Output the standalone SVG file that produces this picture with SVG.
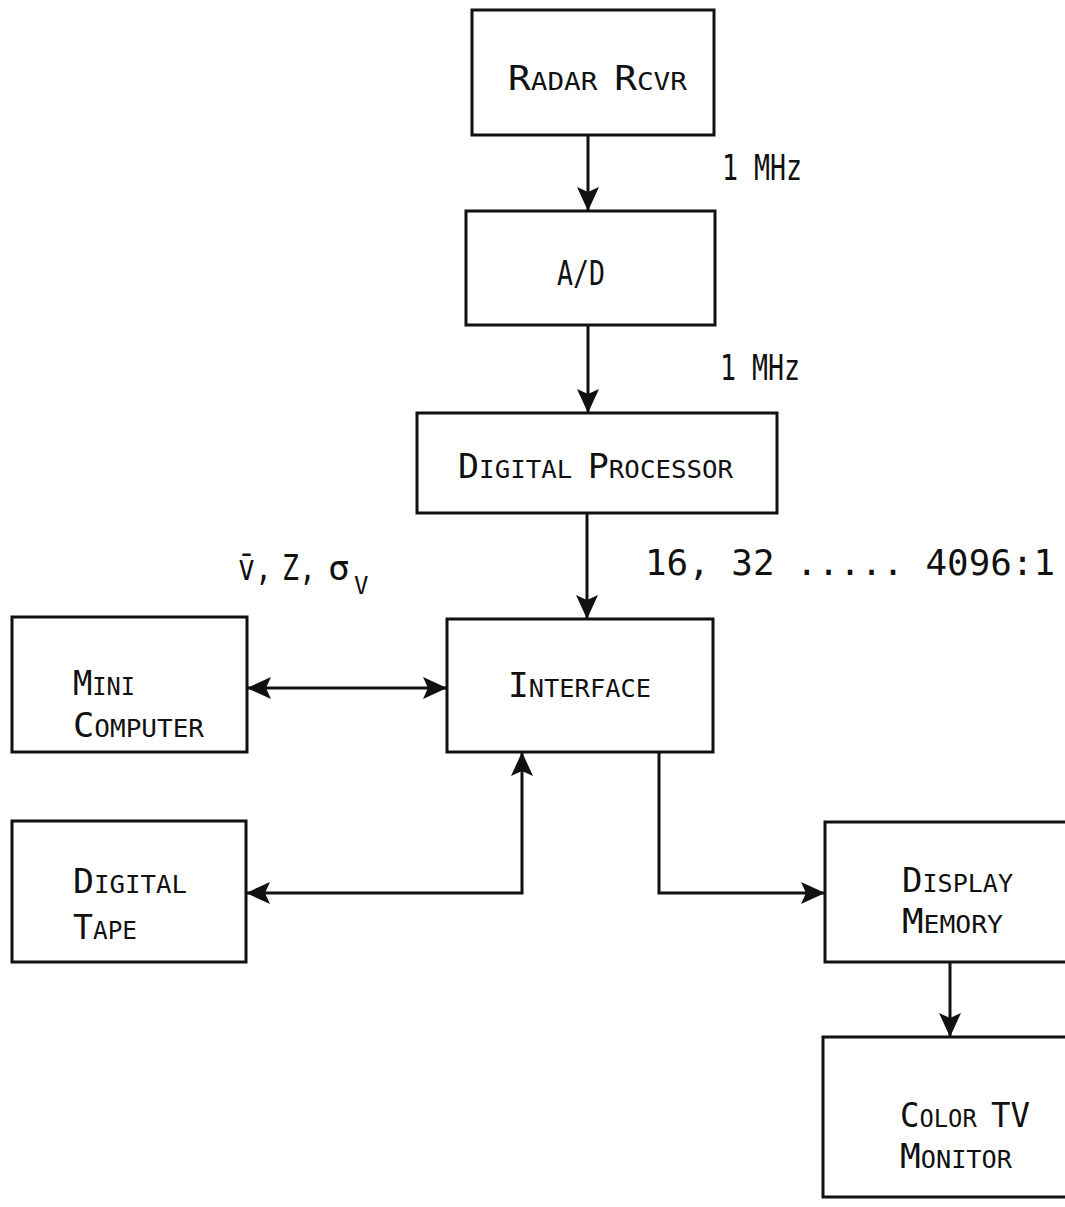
<svg xmlns="http://www.w3.org/2000/svg" width="1065" height="1207" viewBox="0 0 1065 1207">
  <style>
    .box { fill: none; stroke: #111; stroke-width: 3; }
    .wire { fill: none; stroke: #111; stroke-width: 3; }
    .lbl { font-family: "DejaVu Sans Mono", "Liberation Mono", monospace; fill: #111; }
    .cap { font-size: 34px; }
    .sc { font-size: 25px; }
    .note { font-family: "DejaVu Sans Mono", "Liberation Mono", monospace; font-size: 36px; fill: #111; }
    .sub { font-family: "DejaVu Sans Mono", "Liberation Mono", monospace; font-size: 24px; fill: #111; }
  </style>
  <defs>
    <marker id="head" viewBox="0 0 24 22" refX="23" refY="11" markerWidth="24" markerHeight="22" markerUnits="userSpaceOnUse" orient="auto-start-reverse">
      <path d="M0,0 L24,11 L0,22 L5,11 Z" fill="#111"/>
    </marker>
  </defs>
  <rect width="1065" height="1207" fill="#fff"/>

  <!-- connectors -->
  <g id="connectors">
    <line class="wire" x1="588" y1="135" x2="588" y2="210" marker-end="url(#head)"/>
    <line class="wire" x1="588" y1="325" x2="588" y2="412" marker-end="url(#head)"/>
    <line class="wire" x1="587" y1="513" x2="587" y2="618" marker-end="url(#head)"/>
    <line class="wire" x1="248" y1="688" x2="446" y2="688" marker-start="url(#head)" marker-end="url(#head)"/>
    <polyline class="wire" points="522,753 522,893 247,893" marker-start="url(#head)" marker-end="url(#head)"/>
    <polyline class="wire" points="659,752 659,893 824,893" marker-end="url(#head)"/>
    <line class="wire" x1="950" y1="962" x2="950" y2="1036" marker-end="url(#head)"/>
  </g>

  <!-- rate / output labels -->
  <g id="labels">
    <text class="note" x="722" y="180" textLength="80" lengthAdjust="spacingAndGlyphs">1 MHz</text>
    <text class="note" x="720" y="380" textLength="80" lengthAdjust="spacingAndGlyphs">1 MHz</text>
    <text class="note" x="238" y="580" textLength="34" lengthAdjust="spacingAndGlyphs">v̄,</text>
    <text class="note" x="282" y="580" textLength="34" lengthAdjust="spacingAndGlyphs">Z,</text>
    <text class="note" x="328" y="580">σ</text>
    <text class="sub" x="354" y="594">V</text>
    <text class="note" x="645" y="575" textLength="410" lengthAdjust="spacingAndGlyphs">16, 32 ..... 4096:1</text>
  </g>

  <g id="radar-rcvr">
    <rect class="box" x="472" y="10" width="242" height="125"/>
    <text class="lbl" x="508" y="90" textLength="179" lengthAdjust="spacingAndGlyphs"><tspan class="cap">R</tspan><tspan class="sc">ADAR  </tspan><tspan class="cap">R</tspan><tspan class="sc">CVR</tspan></text>
  </g>

  <g id="a-d">
    <rect class="box" x="466" y="211" width="249" height="114"/>
    <text class="lbl cap" x="557" y="285" textLength="48" lengthAdjust="spacingAndGlyphs">A/D</text>
  </g>

  <g id="digital-processor">
    <rect class="box" x="417" y="413" width="360" height="100"/>
    <text class="lbl" x="458" y="478" textLength="275" lengthAdjust="spacingAndGlyphs"><tspan class="cap">D</tspan><tspan class="sc">IGITAL </tspan><tspan class="cap">P</tspan><tspan class="sc">ROCESSOR</tspan></text>
  </g>

  <g id="interface">
    <rect class="box" x="447" y="619" width="266" height="133"/>
    <text class="lbl" x="508" y="697" textLength="143" lengthAdjust="spacingAndGlyphs"><tspan class="cap">I</tspan><tspan class="sc">NTERFACE</tspan></text>
  </g>

  <g id="mini-computer">
    <rect class="box" x="12" y="617" width="235" height="135"/>
    <text class="lbl" x="73" y="695" textLength="62" lengthAdjust="spacingAndGlyphs"><tspan class="cap">M</tspan><tspan class="sc">INI</tspan></text>
    <text class="lbl" x="73" y="737" textLength="131" lengthAdjust="spacingAndGlyphs"><tspan class="cap">C</tspan><tspan class="sc">OMPUTER</tspan></text>
  </g>

  <g id="digital-tape">
    <rect class="box" x="12" y="821" width="234" height="141"/>
    <text class="lbl" x="73" y="893" textLength="114" lengthAdjust="spacingAndGlyphs"><tspan class="cap">D</tspan><tspan class="sc">IGITAL</tspan></text>
    <text class="lbl" x="73" y="939" textLength="64" lengthAdjust="spacingAndGlyphs"><tspan class="cap">T</tspan><tspan class="sc">APE</tspan></text>
  </g>

  <g id="display-memory">
    <rect class="box" x="825" y="822" width="260" height="140"/>
    <text class="lbl" x="902" y="892" textLength="111" lengthAdjust="spacingAndGlyphs"><tspan class="cap">D</tspan><tspan class="sc">ISPLAY</tspan></text>
    <text class="lbl" x="902" y="933" textLength="101" lengthAdjust="spacingAndGlyphs"><tspan class="cap">M</tspan><tspan class="sc">EMORY</tspan></text>
  </g>

  <g id="color-tv-monitor">
    <rect class="box" x="823" y="1037" width="262" height="160"/>
    <text class="lbl" x="900" y="1127" textLength="130" lengthAdjust="spacingAndGlyphs"><tspan class="cap">C</tspan><tspan class="sc">OLOR </tspan><tspan class="cap">TV</tspan></text>
    <text class="lbl" x="900" y="1168" textLength="112" lengthAdjust="spacingAndGlyphs"><tspan class="cap">M</tspan><tspan class="sc">ONITOR</tspan></text>
  </g>
</svg>
